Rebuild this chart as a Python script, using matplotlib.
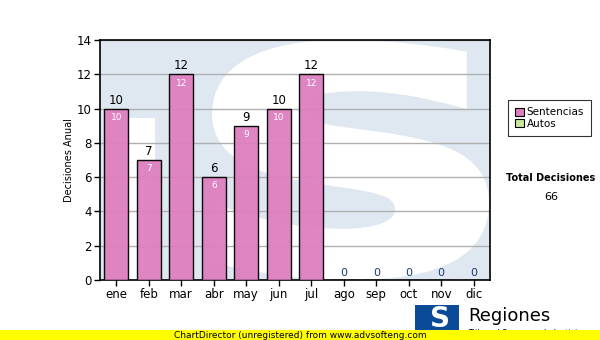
import matplotlib
matplotlib.use("Agg")
import matplotlib.pyplot as plt
from matplotlib.patches import Rectangle, PathPatch, Patch
from matplotlib.textpath import TextPath
from matplotlib.font_manager import FontProperties
from matplotlib.transforms import Affine2D

months = ["ene", "feb", "mar", "abr", "may", "jun", "jul", "ago", "sep", "oct", "nov", "dic"]
sentencias = [10, 7, 12, 6, 9, 10, 12, 0, 0, 0, 0, 0]
series_names = ["Sentencias", "Autos"]
total_label = "Total Decisiones"
total_value = 66
yticks = [0, 2, 4, 6, 8, 10, 12, 14]

W, H = 600, 340
fig = plt.figure(figsize=(6, 3.4), dpi=100)
ax = fig.add_axes([100 / W, 1 - 280 / H, 390 / W, 240 / H])

bg_blue = "#dfe8f1"
ax.set_facecolor(bg_blue)
# watermark: white block + big white S
ax.add_patch(Rectangle((0.072, 0.0), 0.07, 0.675, transform=ax.transAxes,
                       facecolor="white", edgecolor="none", zorder=0.1))
tp = TextPath((0, 0), "S", prop=FontProperties(family="DejaVu Sans", weight="bold"), size=1)
ext = tp.get_extents()
x0, x1, y0, y1 = 0.30, 0.985, 0.02, 0.98
tr = Affine2D().translate(-ext.x0, -ext.y0).scale((x1 - x0) / ext.width, (y1 - y0) / ext.height).translate(x0, y0)
sp = PathPatch(tr.transform_path(tp), transform=ax.transAxes, facecolor="white",
               edgecolor="white", linewidth=7, zorder=0.2)
ax.add_patch(sp)
sp.set_clip_path(ax.patch)

x = list(range(len(months)))
bar_color = "#dd7fbf"
bars = ax.bar(x, sentencias, width=0.74, color=bar_color, edgecolor="black",
              linewidth=1.0, zorder=3, alpha=0.95)

for xi, v in zip(x, sentencias):
    if v > 0:
        ax.text(xi, v + 0.12, str(v), ha="center", va="bottom", fontsize=8.5, color="black", zorder=5)
        ax.text(xi, v - 0.25, str(v), ha="center", va="top", fontsize=6.5, color="white", zorder=5)
    else:
        ax.text(xi, v + 0.12, str(v), ha="center", va="bottom", fontsize=8, color="#1c3a78", zorder=5)

ax.set_xlim(-0.5, len(months) - 0.5)
ax.set_ylim(0, 14)
ax.set_yticks(yticks)
ax.set_yticklabels([str(t) for t in yticks], fontsize=8.5)
ax.set_xticks(x)
ax.set_xticklabels(months, fontsize=8.5)
ax.tick_params(axis="both", length=4, width=1, color="black", pad=2)
ax.yaxis.grid(True, color="#b0b0b0", linewidth=1, zorder=1)
ax.set_axisbelow(True)
for s in ax.spines.values():
    s.set_color("black")
    s.set_linewidth(1.2)
ax.set_ylabel("Decisiones Anual", fontsize=7, labelpad=2)

handles = [Patch(facecolor="#dd7fbf", edgecolor="black", linewidth=0.8),
           Patch(facecolor="#cce8a0", edgecolor="black", linewidth=0.8)]
leg = fig.legend(handles, series_names, loc="upper left",
                 bbox_to_anchor=(508 / W, 1 - 100 / H), fontsize=7.5, frameon=True,
                 fancybox=False, edgecolor="black", handlelength=0.8, handleheight=0.8,
                 handletextpad=0.3, borderpad=0.7, labelspacing=0.15, borderaxespad=0)
leg.get_frame().set_linewidth(0.8)

fig.text(551 / W, 1 - 178 / H, total_label, ha="center", va="center", fontsize=7, fontweight="bold")
fig.text(551 / W, 1 - 197 / H, str(total_value), ha="center", va="center", fontsize=8)

# logo
fig.patches.append(Rectangle((415 / W, 1 - 334 / H), 44 / W, 29 / H, transform=fig.transFigure,
                             facecolor="#0b4a96", edgecolor="none", zorder=1))
fig.text(440 / W, 1 - 319 / H, "S", ha="center", va="center", fontsize=20, fontweight="bold",
         color="white", zorder=2)
fig.text(468 / W, 1 - 316 / H, "Regiones", ha="left", va="center", fontsize=13, color="black")
fig.text(468 / W, 1 - 333 / H, "Tribunal Supremo de Justicia", ha="left", va="center", fontsize=5.8,
         color="black", zorder=1)

# bottom yellow band
fig.patches.append(Rectangle((0, 0), 1, 10 / H, transform=fig.transFigure,
                             facecolor="#ffff00", edgecolor="none", zorder=5))
fig.text(0.5, 5 / H, "ChartDirector (unregistered) from www.advsofteng.com", ha="center",
         va="center", fontsize=6.5, color="black", zorder=6)

fig.savefig("out.png", dpi=100)
